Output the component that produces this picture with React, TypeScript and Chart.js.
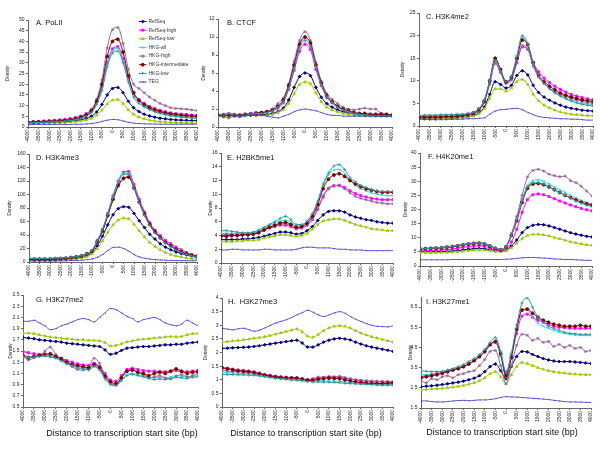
import React, { useEffect, useRef } from 'react';
import { Chart, registerables } from 'chart.js';
import { drawPoint } from 'chart.js/helpers';

Chart.register(...registerables);

const FONT = '"Liberation Sans", Arial, sans-serif';

// x positions (bp) of the profile points
const X = [-4000, -3750, -3500, -3250, -3000, -2750, -2500, -2250, -2000, -1750, -1500, -1250, -1000, -750, -500, -250,
  0, 250, 500, 750, 1000, 1250, 1500, 1750, 2000, 2250, 2500, 2750, 3000, 3250, 3500, 3750, 4000];
const X_TICKS = [-4000, -3500, -3000, -2500, -2000, -1500, -1000, -500, 0, 500, 1000, 1500, 2000, 2500, 3000, 3500, 4000];

const SERIES_NAMES = ['RefSeq', 'RefSeq-high', 'RefSeq-low', 'HKG-all', 'HKG-high', 'HKG-intermediate', 'HKG-low', 'TEG'];
const SERIES_COLORS = ['#000080', '#FF00FF', '#99CC00', '#22D8D8', '#996699', '#800000', '#2A9A9A', '#3333CC'];
const SERIES_MARKERS = ['rectRot', 'rect', 'triangle', 'crossRot', 'star', 'circle', 'cross', 'dash'];

// A. PoLII
const A_REFSEQ = [1.8, 1.9, 2.0, 2.1, 2.2, 2.3, 2.4, 2.5, 2.7, 3.0, 3.4, 4.0, 5.0, 7.0, 10.5, 15, 18, 18.5, 16, 12, 9, 7.2, 6.0, 5.2, 4.6, 4.1, 3.8, 3.5, 3.3, 3.2, 3.1, 3.0, 3.0];
const A_RS_HIGH = [2.2, 2.3, 2.5, 2.7, 2.9, 3.1, 3.3, 3.6, 3.9, 4.4, 5.1, 6.2, 8.2, 12, 19, 30, 36.5, 37.5, 32, 23, 16, 12.8, 11, 9.6, 8.6, 7.8, 7.1, 6.6, 6.2, 6.0, 5.8, 5.6, 5.5];
const A_RS_LOW = [1.6, 1.7, 1.8, 1.8, 1.9, 2.0, 2.0, 2.1, 2.3, 2.5, 2.8, 3.2, 4.0, 5.5, 7.8, 10.8, 12.5, 12.8, 11, 8, 6, 4.6, 3.8, 3.2, 2.8, 2.5, 2.3, 2.2, 2.1, 2.0, 2.0, 1.9, 1.9];
const A_HKG_ALL = [2.0, 2.1, 2.2, 2.3, 2.4, 2.5, 2.6, 2.8, 3.1, 3.6, 4.2, 5.2, 7.0, 11, 18, 29, 35.5, 36.8, 31, 22, 15, 11.8, 10, 8.6, 7.6, 6.8, 6.1, 5.6, 5.2, 5.0, 4.8, 4.6, 4.5];
const A_HKG_HIGH = [2.4, 2.5, 2.6, 2.7, 2.8, 2.9, 3.0, 3.2, 3.5, 4.0, 4.8, 6.0, 8.0, 13, 22, 37, 45.5, 46.5, 39, 27, 20, 18, 16, 14, 12.5, 11, 10, 9, 8.7, 8.5, 8.3, 8, 7.7];
const A_HKG_INT = [2.2, 2.3, 2.4, 2.5, 2.6, 2.7, 2.8, 3.0, 3.3, 3.8, 4.5, 5.6, 7.5, 12, 20, 33, 40, 41, 35, 24, 16, 12.5, 10.5, 9, 8, 7.2, 6.6, 6.1, 5.8, 5.5, 5.3, 5.1, 5.0];
const A_HKG_LOW = [1.9, 2.0, 2.1, 2.2, 2.3, 2.4, 2.5, 2.7, 3.0, 3.4, 4.0, 5.0, 6.6, 10.5, 17, 28, 34.5, 35.5, 30, 21, 14, 11, 9.4, 8.1, 7.1, 6.3, 5.7, 5.2, 4.9, 4.6, 4.4, 4.2, 4.0];
const A_TEG = [1.2, 1.2, 1.2, 1.2, 1.2, 1.2, 1.2, 1.2, 1.2, 1.3, 1.3, 1.4, 1.6, 2.0, 2.6, 3.2, 3.5, 3.4, 2.8, 2.2, 1.8, 1.6, 1.5, 1.4, 1.4, 1.3, 1.3, 1.3, 1.3, 1.3, 1.3, 1.3, 1.3];
const A_YTICKS = [0, 5, 10, 15, 20, 25, 30, 35, 40, 45, 50];

// B. CTCF
const B_REFSEQ = [1.3, 1.3, 1.3, 1.3, 1.3, 1.3, 1.3, 1.3, 1.4, 1.4, 1.5, 1.7, 2.1, 3.0, 4.4, 5.6, 6.0, 5.7, 4.4, 3.3, 2.6, 2.2, 1.9, 1.7, 1.6, 1.5, 1.4, 1.4, 1.3, 1.3, 1.3, 1.3, 1.3];
const B_RS_HIGH = [1.3, 1.4, 1.5, 1.4, 1.3, 1.4, 1.5, 1.6, 1.6, 1.7, 1.8, 2.1, 2.7, 4.2, 6.3, 8.4, 9.2, 8.6, 6.4, 4.6, 3.3, 2.7, 2.2, 1.9, 1.7, 1.6, 1.5, 1.5, 1.4, 1.4, 1.5, 1.4, 1.3];
const B_RS_LOW = [1.2, 1.2, 1.2, 1.2, 1.2, 1.2, 1.3, 1.3, 1.3, 1.3, 1.4, 1.6, 1.9, 2.6, 3.7, 4.7, 5.0, 4.8, 3.8, 2.8, 2.2, 1.9, 1.7, 1.5, 1.4, 1.3, 1.3, 1.2, 1.2, 1.2, 1.2, 1.2, 1.2];
const B_HKG_ALL = [1.3, 1.4, 1.3, 1.3, 1.3, 1.4, 1.4, 1.5, 1.6, 1.7, 1.9, 2.2, 2.9, 4.4, 6.7, 9.0, 9.8, 9.2, 6.8, 4.8, 3.5, 2.8, 2.3, 2.0, 1.8, 1.6, 1.5, 1.4, 1.4, 1.3, 1.3, 1.3, 1.3];
const B_HKG_HIGH = [1.2, 1.1, 1.0, 1.2, 1.1, 1.3, 1.4, 1.5, 1.6, 1.7, 2.0, 2.6, 3.2, 4.8, 7.3, 9.6, 10.6, 9.6, 7.2, 5.1, 3.7, 3.1, 2.6, 2.2, 2.0, 1.9, 2.0, 2.1, 2.0, 2.0, 1.5, 1.3, 1.2];
const B_HKG_INT = [1.3, 1.3, 1.3, 1.3, 1.3, 1.4, 1.4, 1.5, 1.6, 1.7, 1.9, 2.3, 3.0, 4.6, 6.9, 9.2, 10.0, 9.3, 6.9, 4.9, 3.5, 2.8, 2.3, 2.0, 1.8, 1.6, 1.5, 1.5, 1.4, 1.4, 1.4, 1.4, 1.3];
const B_HKG_LOW = [1.2, 1.3, 1.5, 1.3, 1.2, 1.3, 1.4, 1.5, 1.5, 1.6, 1.8, 2.2, 2.8, 4.3, 6.5, 8.8, 9.6, 9.0, 6.7, 4.7, 3.4, 2.7, 2.2, 1.9, 1.7, 1.5, 1.4, 1.3, 1.3, 1.2, 1.2, 1.2, 1.2];
const B_TEG = [1.3, 1.3, 1.3, 1.3, 1.2, 1.3, 1.3, 1.3, 1.3, 1.2, 1.1, 1.0, 1.2, 1.4, 1.7, 1.9, 2.0, 1.9, 1.8, 1.6, 1.4, 1.3, 1.3, 1.2, 1.2, 1.2, 1.2, 1.2, 1.2, 1.2, 1.2, 1.2, 1.2];
const B_YTICKS = [0, 2, 4, 6, 8, 10, 12];

// C. H3K4me2
const C_REFSEQ = [1.6, 1.6, 1.6, 1.6, 1.7, 1.7, 1.7, 1.8, 1.9, 2.0, 2.3, 2.9, 4.2, 7, 9.8, 9.2, 8.4, 9, 11.2, 12.2, 11.3, 9, 7.4, 6.4, 5.7, 5.1, 4.6, 4.2, 3.9, 3.7, 3.5, 3.4, 3.3];
const C_RS_HIGH = [1.8, 1.9, 1.9, 1.9, 2.0, 2.0, 2.1, 2.2, 2.4, 2.6, 3.0, 3.8, 5.6, 9.5, 14, 12, 9.6, 10.5, 14, 17.5, 17, 14, 12, 10.6, 9.6, 8.8, 8.1, 7.5, 7.0, 6.6, 6.3, 6.0, 5.8];
const C_RS_LOW = [1.7, 1.7, 1.7, 1.7, 1.7, 1.7, 1.8, 1.8, 1.9, 2.0, 2.2, 2.7, 3.8, 6, 8.2, 8.2, 7.7, 8.4, 9.8, 10.3, 9.2, 7, 5.6, 4.6, 4.0, 3.5, 3.1, 2.8, 2.6, 2.5, 2.4, 2.3, 2.3];
const C_HKG_ALL = [2.2, 2.2, 2.3, 2.3, 2.3, 2.4, 2.4, 2.5, 2.5, 2.7, 2.9, 3.7, 5.6, 10, 14.6, 12.3, 9.9, 11, 15.3, 19.6, 18, 13.8, 11, 9.5, 8.4, 7.5, 6.8, 6.2, 5.8, 5.4, 5.1, 4.9, 4.7];
const C_HKG_HIGH = [1.8, 1.8, 1.9, 1.9, 1.9, 2.0, 2.0, 2.1, 2.2, 2.4, 2.7, 3.5, 5.2, 9.2, 13.8, 11.8, 9.4, 10.2, 14, 17.8, 17, 13.2, 10.8, 9.4, 8.4, 7.6, 7, 6.5, 6.1, 5.8, 5.5, 5.2, 5.0];
const C_HKG_INT = [2.0, 2.0, 2.0, 2.0, 2.0, 2.1, 2.1, 2.2, 2.3, 2.5, 2.8, 3.6, 5.5, 10, 15, 12.5, 9.8, 10.8, 15, 19, 18, 14, 11.2, 9.8, 8.8, 8, 7.3, 6.8, 6.4, 6.1, 5.8, 5.6, 5.4];
const C_HKG_LOW = [2.3, 2.4, 2.4, 2.4, 2.5, 2.5, 2.5, 2.6, 2.6, 2.8, 3.0, 3.8, 5.7, 10, 14.5, 12.2, 9.8, 11, 15.5, 20, 18.2, 13.8, 11, 9.4, 8.2, 7.3, 6.6, 6.0, 5.5, 5.1, 4.8, 4.6, 4.4];
const C_TEG = [1.5, 1.5, 1.4, 1.4, 1.4, 1.4, 1.5, 1.5, 1.5, 1.6, 1.6, 1.7, 1.8, 2.6, 3.3, 3.6, 3.7, 3.85, 3.9, 3.6, 3.0, 2.5, 2.1, 1.9, 1.8, 1.7, 1.6, 1.6, 1.5, 1.5, 1.4, 1.3, 1.3];
const C_YTICKS = [0, 5, 10, 15, 20, 25];

// D. H3K4me3
const D_REFSEQ = [3, 3, 3, 3, 3, 3.2, 3.5, 4, 4.5, 5.5, 6.5, 9, 14, 24, 38, 55, 70, 79, 82, 81, 72, 61, 51, 41, 34, 27, 22, 18, 15, 12.5, 10.5, 8.5, 7];
const D_RS_HIGH = [4, 4, 4, 4, 4, 4.5, 5, 5.5, 6.5, 7.5, 9, 12, 17, 32, 48, 72, 98, 120, 133, 134, 115, 93, 74, 58, 47, 39, 32, 27, 22, 18, 14, 11, 9];
const D_RS_LOW = [2.5, 2.5, 2.5, 2.5, 2.5, 2.7, 3, 3.5, 4, 5, 6, 8, 12, 20, 31, 44, 55, 62, 65, 64, 56, 46, 37, 29, 23, 18, 14, 11, 9, 7.5, 6, 5, 4];
const D_HKG_ALL = [5, 5, 5, 5, 5, 5.5, 6, 6.5, 7, 8, 9.5, 12, 17, 31, 48, 72, 97, 119, 132, 131, 111, 89, 70, 55, 44, 36, 29, 24, 19, 15, 12, 10, 8];
const D_HKG_HIGH = [4, 4, 4, 4, 4, 4.5, 5, 5.5, 6.5, 7.5, 9, 12, 16, 29, 45, 68, 92, 112, 123, 125, 109, 88, 70, 55, 44, 36, 29, 24, 19, 15, 12, 10, 8];
const D_HKG_INT = [4, 4, 4, 4, 4, 4.5, 5, 5.5, 6.5, 7.5, 9, 12, 16, 30, 46, 69, 93, 114, 124, 126, 110, 89, 71, 56, 45, 36, 29, 24, 19, 15, 12, 10, 8];
const D_HKG_LOW = [5.5, 5.5, 5.5, 5.5, 5.5, 6, 6, 6.5, 7, 8, 9.5, 12, 17, 31, 48, 71, 96, 118, 130, 130, 110, 88, 69, 54, 43, 35, 28, 23, 18, 14, 11, 9, 7];
const D_TEG = [1.5, 1.5, 1.5, 1.5, 1.5, 1.6, 1.7, 1.8, 2, 2.3, 2.7, 3.4, 4.5, 7, 11, 17, 21.5, 22, 20, 16, 11, 7.5, 5.5, 4.2, 3.5, 3, 2.6, 2.3, 2.1, 2, 1.9, 1.8, 1.8];
const D_YTICKS = [0, 20, 40, 60, 80, 100, 120, 140, 160];

// E. H2BK5me1
const E_REFSEQ = [3.4, 3.4, 3.4, 3.4, 3.5, 3.5, 3.6, 3.7, 3.9, 4.1, 4.3, 4.5, 4.5, 4.4, 4.2, 4.3, 4.7, 5.3, 6.2, 7.0, 7.5, 7.6, 7.6, 7.4, 7.0, 6.7, 6.5, 6.3, 6.2, 6.0, 5.9, 5.8, 5.8];
const E_RS_HIGH = [4.0, 4.0, 4.0, 4.1, 4.1, 4.2, 4.3, 4.5, 4.8, 5.1, 5.3, 5.5, 5.5, 5.3, 5.0, 5.1, 5.5, 6.3, 7.8, 9.6, 10.8, 11.2, 11.3, 11.0, 10.5, 10.1, 9.8, 9.6, 9.4, 9.3, 9.2, 9.2, 9.2];
const E_RS_LOW = [3.1, 3.1, 3.1, 3.2, 3.2, 3.3, 3.3, 3.4, 3.6, 3.8, 3.9, 4.1, 4.1, 4.0, 3.9, 4.0, 4.3, 4.9, 5.6, 6.1, 6.3, 6.4, 6.4, 6.2, 5.9, 5.6, 5.4, 5.2, 5.0, 4.9, 4.8, 4.7, 4.7];
const E_HKG_ALL = [4.3, 4.3, 4.3, 4.3, 4.3, 4.3, 4.4, 4.6, 5.0, 5.4, 5.8, 6.1, 6.2, 5.9, 5.4, 5.5, 6.0, 7.0, 8.8, 11.2, 12.8, 13.5, 13.6, 13.0, 12.0, 11.3, 10.8, 10.5, 10.2, 10.0, 9.9, 9.8, 9.8];
const E_HKG_HIGH = [4.1, 4.2, 4.1, 4.0, 4.1, 4.2, 4.3, 4.5, 4.9, 5.2, 5.4, 5.7, 5.7, 5.4, 5.0, 5.1, 5.6, 6.4, 7.9, 9.8, 10.9, 11.3, 11.2, 10.8, 10.2, 9.7, 9.4, 9.2, 9.0, 8.8, 8.7, 8.6, 8.6];
const E_HKG_INT = [3.9, 3.9, 4.0, 4.0, 4.1, 4.1, 4.2, 4.4, 4.8, 5.2, 5.5, 5.8, 5.9, 5.6, 5.2, 5.3, 5.8, 6.8, 8.5, 10.8, 12.2, 12.8, 13.0, 12.6, 12.0, 11.5, 11.1, 10.8, 10.6, 10.4, 10.3, 10.3, 10.3];
const E_HKG_LOW = [4.7, 4.7, 4.6, 4.5, 4.4, 4.4, 4.5, 4.8, 5.2, 5.6, 6.0, 6.5, 6.8, 6.3, 5.6, 5.6, 6.1, 7.2, 9.0, 11.5, 13.1, 14.1, 14.3, 13.6, 12.4, 11.8, 11.3, 11.0, 10.7, 10.5, 10.4, 10.4, 10.4];
const E_TEG = [1.9, 1.9, 2.0, 2.0, 1.9, 1.9, 1.9, 1.9, 2.0, 2.0, 1.9, 1.9, 1.9, 1.9, 2.0, 2.2, 2.3, 2.3, 2.2, 2.2, 2.2, 2.1, 2.0, 2.0, 1.9, 1.9, 1.9, 1.8, 1.8, 1.8, 1.8, 1.8, 1.8];
const E_YTICKS = [0, 2, 4, 6, 8, 10, 12, 14, 16];

// F. H4K20me1
const F_REFSEQ = [5.0, 5.0, 5.0, 5.1, 5.1, 5.2, 5.3, 5.5, 5.7, 5.9, 6.1, 6.2, 6.1, 5.8, 5.4, 5.2, 5.6, 7.0, 9.2, 11.8, 13.6, 14.4, 14.7, 14.6, 14.2, 13.6, 13.0, 12.4, 11.8, 11.3, 10.9, 10.5, 10.3];
const F_RS_HIGH = [5.4, 5.4, 5.5, 5.6, 5.7, 5.8, 6.0, 6.3, 6.6, 6.9, 7.1, 7.2, 7.0, 6.4, 5.7, 5.3, 5.8, 8.5, 13, 19, 23.5, 25.2, 25.5, 25.2, 24.6, 23.8, 23.0, 22.3, 21.6, 21.0, 20.4, 19.9, 19.5];
const F_RS_LOW = [4.7, 4.7, 4.7, 4.7, 4.8, 4.8, 4.9, 5.0, 5.2, 5.4, 5.6, 5.7, 5.6, 5.4, 5.1, 5.0, 5.3, 6.4, 8.0, 9.7, 10.8, 11.2, 11.2, 11.0, 10.6, 10.1, 9.6, 9.1, 8.6, 8.2, 7.8, 7.5, 7.3];
const F_HKG_ALL = [6.3, 6.3, 6.4, 6.5, 6.6, 6.8, 7.0, 7.3, 7.6, 7.9, 8.1, 8.2, 8.0, 7.3, 6.4, 5.9, 6.9, 11, 16.5, 23.5, 28.5, 30.2, 30.5, 30.0, 29.0, 28.0, 27.0, 26.0, 25.0, 24.0, 23.2, 22.5, 22.0];
const F_HKG_HIGH = [6.2, 6.2, 6.3, 6.4, 6.6, 6.8, 7.0, 7.3, 7.7, 8.0, 8.2, 8.3, 8.0, 7.3, 6.4, 5.8, 7.0, 11.5, 17.5, 25, 31.5, 33.8, 34.2, 33.6, 32.5, 32, 31.6, 31.8, 30.2, 29.5, 28.2, 26.5, 24.8];
const F_HKG_INT = [6.0, 6.1, 6.2, 6.3, 6.4, 6.6, 6.8, 7.1, 7.4, 7.7, 7.9, 8.0, 7.7, 7.0, 6.2, 5.7, 6.7, 10.8, 16, 22.5, 27.5, 29.0, 29.2, 28.8, 28.0, 27.0, 26.0, 25.0, 24.2, 23.4, 22.6, 22.0, 21.5];
const F_HKG_LOW = [6.2, 6.2, 6.3, 6.4, 6.5, 6.7, 6.9, 7.2, 7.5, 7.8, 8.0, 8.1, 7.8, 7.1, 6.3, 5.8, 6.8, 10.9, 16.3, 23, 28, 29.4, 29.5, 29.0, 28.0, 27.0, 26.0, 25.0, 24.0, 23.0, 22.2, 21.5, 21.0];
const F_TEG = [2.2, 2.2, 2.2, 2.2, 2.2, 2.2, 2.3, 2.3, 2.3, 2.3, 2.3, 2.3, 2.3, 2.3, 2.3, 2.3, 2.4, 2.5, 2.7, 2.9, 3.0, 3.0, 2.9, 2.8, 2.7, 2.5, 2.4, 2.3, 2.3, 2.2, 2.1, 2.0, 2.0];
const F_YTICKS = [0, 5, 10, 15, 20, 25, 30, 35, 40];

// G. H3K27me2
const G_REFSEQ = [1.74, 1.73, 1.72, 1.70, 1.69, 1.68, 1.67, 1.66, 1.64, 1.63, 1.62, 1.61, 1.60, 1.59, 1.58, 1.52, 1.44, 1.46, 1.51, 1.55, 1.56, 1.57, 1.58, 1.58, 1.59, 1.60, 1.61, 1.61, 1.62, 1.62, 1.64, 1.65, 1.66];
const G_RS_HIGH = [1.49, 1.47, 1.45, 1.44, 1.43, 1.42, 1.40, 1.37, 1.33, 1.30, 1.27, 1.25, 1.24, 1.28, 1.22, 1.10, 0.98, 0.96, 1.06, 1.17, 1.19, 1.17, 1.15, 1.14, 1.14, 1.13, 1.13, 1.14, 1.15, 1.13, 1.13, 1.14, 1.15];
const G_RS_LOW = [1.82, 1.82, 1.81, 1.79, 1.77, 1.75, 1.74, 1.73, 1.72, 1.71, 1.70, 1.70, 1.69, 1.69, 1.68, 1.65, 1.59, 1.60, 1.63, 1.66, 1.68, 1.70, 1.71, 1.72, 1.73, 1.74, 1.75, 1.76, 1.75, 1.76, 1.79, 1.81, 1.81];
const G_HKG_ALL = [1.42, 1.40, 1.40, 1.41, 1.42, 1.40, 1.38, 1.34, 1.29, 1.25, 1.22, 1.20, 1.18, 1.24, 1.18, 1.02, 0.92, 0.89, 0.98, 1.08, 1.10, 1.08, 1.06, 1.04, 1.02, 1.03, 1.02, 1.04, 1.06, 1.05, 1.04, 1.05, 1.06];
const G_HKG_HIGH = [1.40, 1.34, 1.38, 1.42, 1.50, 1.57, 1.44, 1.35, 1.28, 1.22, 1.17, 1.16, 1.20, 1.37, 1.28, 1.06, 0.93, 0.90, 1.02, 1.14, 1.16, 1.12, 1.08, 1.02, 1.04, 1.06, 1.02, 1.00, 1.05, 1.08, 1.04, 1.06, 1.10];
const G_HKG_INT = [1.42, 1.38, 1.40, 1.42, 1.44, 1.45, 1.40, 1.36, 1.30, 1.26, 1.24, 1.22, 1.20, 1.26, 1.20, 1.05, 0.95, 0.92, 1.02, 1.14, 1.16, 1.12, 1.10, 1.06, 1.10, 1.12, 1.10, 1.14, 1.18, 1.14, 1.10, 1.12, 1.13];
const G_HKG_LOW = [1.40, 1.38, 1.39, 1.40, 1.41, 1.39, 1.37, 1.32, 1.27, 1.24, 1.20, 1.18, 1.16, 1.22, 1.16, 1.00, 0.90, 0.88, 0.97, 1.06, 1.08, 1.06, 1.04, 1.01, 0.99, 1.00, 0.99, 1.01, 1.03, 1.02, 1.01, 1.03, 1.04];
const G_TEG = [2.03, 2.03, 2.05, 2.0, 1.95, 1.88, 1.90, 1.95, 1.98, 2.02, 2.06, 2.08, 2.06, 2.02, 2.1, 2.18, 2.26, 2.24, 2.18, 2.12, 2.08, 2.02, 2.06, 2.08, 2.10, 2.06, 2.0, 1.97, 1.95, 1.98, 2.05, 2.0, 1.95];
const G_YTICKS = [0.5, 0.7, 0.9, 1.1, 1.3, 1.5, 1.7, 1.9, 2.1, 2.3, 2.5];

// H. H3K27me3
const H_REFSEQ = [2.15, 2.16, 2.17, 2.18, 2.19, 2.20, 2.22, 2.25, 2.28, 2.31, 2.34, 2.37, 2.40, 2.43, 2.45, 2.35, 2.20, 2.20, 2.28, 2.38, 2.45, 2.50, 2.52, 2.50, 2.46, 2.38, 2.31, 2.25, 2.20, 2.16, 2.12, 2.08, 2.04];
const H_RS_HIGH = [1.45, 1.42, 1.38, 1.36, 1.34, 1.31, 1.28, 1.24, 1.19, 1.16, 1.13, 1.10, 1.08, 1.07, 1.05, 1.03, 1.00, 1.02, 1.06, 1.08, 1.10, 1.10, 1.09, 1.06, 1.02, 0.99, 0.97, 0.95, 0.94, 0.93, 0.92, 0.91, 0.90];
const H_RS_LOW = [2.38, 2.40, 2.42, 2.44, 2.46, 2.49, 2.52, 2.55, 2.58, 2.62, 2.67, 2.72, 2.77, 2.82, 2.86, 2.76, 2.60, 2.56, 2.66, 2.80, 2.90, 2.96, 2.98, 2.96, 2.90, 2.80, 2.71, 2.64, 2.58, 2.53, 2.48, 2.43, 2.38];
const H_HKG_ALL = [1.28, 1.26, 1.25, 1.24, 1.23, 1.22, 1.20, 1.17, 1.13, 1.10, 1.07, 1.05, 1.03, 1.02, 1.01, 0.99, 0.96, 0.95, 0.96, 0.96, 0.96, 0.95, 0.94, 0.92, 0.90, 0.88, 0.87, 0.86, 0.85, 0.84, 0.84, 0.83, 0.83];
const H_HKG_HIGH = [1.35, 1.32, 1.30, 1.30, 1.28, 1.26, 1.24, 1.20, 1.16, 1.12, 1.10, 1.08, 1.06, 1.08, 1.07, 1.02, 1.00, 1.04, 1.10, 1.09, 1.12, 1.10, 1.13, 1.08, 1.04, 1.00, 0.98, 0.96, 0.95, 0.95, 0.94, 0.94, 0.94];
const H_HKG_INT = [1.44, 1.40, 1.37, 1.33, 1.31, 1.30, 1.27, 1.22, 1.17, 1.14, 1.10, 1.09, 1.08, 1.06, 1.06, 1.03, 0.98, 0.98, 1.02, 1.04, 1.06, 1.05, 1.04, 1.00, 0.96, 0.92, 0.90, 0.88, 0.87, 0.86, 0.86, 0.87, 0.88];
const H_HKG_LOW = [1.20, 1.19, 1.19, 1.18, 1.18, 1.17, 1.16, 1.14, 1.11, 1.08, 1.05, 1.03, 1.01, 0.99, 0.98, 0.96, 0.93, 0.92, 0.92, 0.91, 0.91, 0.90, 0.89, 0.87, 0.86, 0.85, 0.84, 0.83, 0.82, 0.81, 0.80, 0.80, 0.80];
const H_TEG = [2.89, 2.86, 2.83, 2.87, 2.89, 2.84, 2.78, 2.82, 2.90, 2.99, 3.08, 3.14, 3.20, 3.28, 3.38, 3.46, 3.55, 3.48, 3.38, 3.32, 3.38, 3.45, 3.50, 3.44, 3.32, 3.22, 3.14, 3.06, 3.00, 2.96, 2.95, 2.94, 2.98];
const H_YTICKS = [0, 0.5, 1, 1.5, 2, 2.5, 3, 3.5, 4];

// I. H3K27me1
const I_REFSEQ = [2.55, 2.58, 2.60, 2.63, 2.66, 2.70, 2.74, 2.78, 2.83, 2.90, 2.98, 3.10, 3.30, 3.55, 3.68, 3.35, 2.95, 3.55, 4.05, 4.30, 4.28, 4.15, 4.05, 3.95, 3.88, 3.83, 3.80, 3.80, 3.80, 3.78, 3.76, 3.73, 3.70];
const I_RS_HIGH = [3.05, 3.10, 3.15, 3.20, 3.27, 3.33, 3.40, 3.48, 3.57, 3.70, 3.85, 4.05, 4.30, 4.62, 4.75, 4.10, 3.25, 4.10, 5.20, 6.05, 6.15, 6.00, 5.85, 5.75, 5.65, 5.55, 5.50, 5.48, 5.46, 5.45, 5.45, 5.45, 5.45];
const I_RS_LOW = [2.40, 2.42, 2.44, 2.45, 2.47, 2.50, 2.53, 2.57, 2.62, 2.68, 2.75, 2.85, 3.00, 3.20, 3.30, 3.05, 2.70, 3.15, 3.55, 3.75, 3.70, 3.60, 3.50, 3.42, 3.35, 3.30, 3.26, 3.23, 3.20, 3.18, 3.16, 3.15, 3.15];
const I_HKG_ALL = [3.15, 3.15, 3.18, 3.20, 3.25, 3.30, 3.38, 3.45, 3.55, 3.68, 3.82, 4.00, 4.25, 4.60, 4.75, 4.05, 3.00, 3.95, 5.40, 6.30, 6.35, 6.00, 5.70, 5.55, 5.45, 5.35, 5.25, 5.20, 5.15, 5.12, 5.10, 5.10, 5.10];
const I_HKG_HIGH = [2.85, 2.75, 2.95, 2.90, 3.05, 3.10, 3.00, 3.15, 3.20, 3.30, 3.35, 3.60, 3.90, 4.30, 4.35, 3.60, 2.70, 3.60, 4.60, 5.15, 5.10, 4.85, 4.95, 4.75, 4.80, 4.55, 4.65, 4.50, 4.60, 4.45, 4.50, 4.30, 4.35];
const I_HKG_INT = [3.00, 3.05, 3.10, 3.15, 3.22, 3.30, 3.38, 3.45, 3.55, 3.68, 3.85, 4.05, 4.30, 4.65, 4.80, 4.20, 3.10, 4.00, 5.40, 6.35, 6.40, 6.20, 6.00, 5.85, 5.75, 5.65, 5.60, 5.55, 5.55, 5.55, 5.60, 5.55, 5.55];
const I_HKG_LOW = [3.35, 3.32, 3.30, 3.30, 3.32, 3.38, 3.45, 3.55, 3.65, 3.80, 3.95, 4.15, 4.40, 4.75, 5.00, 4.30, 3.30, 4.20, 5.60, 6.70, 6.95, 6.50, 6.00, 5.75, 5.55, 5.45, 5.35, 5.25, 5.20, 5.18, 5.15, 5.15, 5.15];
const I_TEG = [1.85, 1.85, 1.82, 1.80, 1.80, 1.82, 1.85, 1.87, 1.88, 1.86, 1.88, 1.90, 1.90, 1.92, 1.96, 2.02, 2.06, 2.05, 2.04, 2.02, 2.00, 1.98, 1.96, 1.94, 1.92, 1.88, 1.85, 1.82, 1.80, 1.80, 1.79, 1.78, 1.77];
const I_YTICKS = [1.5, 2.5, 3.5, 4.5, 5.5, 6.5];

const X_AXIS_TITLE = 'Distance to transcription start site (bp)';
const Y_AXIS_TITLE = 'Density';

type Rect = { left: number; top: number; width: number; height: number };
type Area = { l: number; t: number; r: number; b: number };
type PanelDef = {
  title: string;
  yMin: number;
  yMax: number;
  yTicks: number[];
  series: number[][];
  box: Rect;
  area: Area;
  titleAt: { x: number; y: number };
  yTitlePad: number;
  legend?: boolean;
  xTitle?: { cx: number; y: number };
};

const PANELS: PanelDef[] = [
  { title: 'A. PoLII', yMin: 0, yMax: 50, yTicks: A_YTICKS,
    series: [A_REFSEQ, A_RS_HIGH, A_RS_LOW, A_HKG_ALL, A_HKG_HIGH, A_HKG_INT, A_HKG_LOW, A_TEG],
    box: { left: 0, top: 0, width: 205, height: 152 }, area: { l: 28, t: 20, r: 197, b: 127 },
    titleAt: { x: 36, y: 19 }, yTitlePad: 5, legend: true },
  { title: 'B. CTCF', yMin: 0, yMax: 12, yTicks: B_YTICKS,
    series: [B_REFSEQ, B_RS_HIGH, B_RS_LOW, B_HKG_ALL, B_HKG_HIGH, B_HKG_INT, B_HKG_LOW, B_TEG],
    box: { left: 200, top: 0, width: 200, height: 152 }, area: { l: 218, t: 19, r: 392, b: 127 },
    titleAt: { x: 227, y: 19 }, yTitlePad: 1 },
  { title: 'C. H3K4me2', yMin: 0, yMax: 25, yTicks: C_YTICKS,
    series: [C_REFSEQ, C_RS_HIGH, C_RS_LOW, C_HKG_ALL, C_HKG_HIGH, C_HKG_INT, C_HKG_LOW, C_TEG],
    box: { left: 400, top: 0, width: 200, height: 152 }, area: { l: 419, t: 13, r: 593, b: 126 },
    titleAt: { x: 426, y: 13 }, yTitlePad: 0 },
  { title: 'D. H3K4me3', yMin: 0, yMax: 160, yTicks: D_YTICKS,
    series: [D_REFSEQ, D_RS_HIGH, D_RS_LOW, D_HKG_ALL, D_HKG_HIGH, D_HKG_INT, D_HKG_LOW, D_TEG],
    box: { left: 0, top: 145, width: 205, height: 147 }, area: { l: 29, t: 154, r: 197, b: 262 },
    titleAt: { x: 36, y: 154 }, yTitlePad: 7 },
  { title: 'E. H2BK5me1', yMin: 0, yMax: 16, yTicks: E_YTICKS,
    series: [E_REFSEQ, E_RS_HIGH, E_RS_LOW, E_HKG_ALL, E_HKG_HIGH, E_HKG_INT, E_HKG_LOW, E_TEG],
    box: { left: 200, top: 145, width: 200, height: 147 }, area: { l: 221, t: 153, r: 394, b: 263 },
    titleAt: { x: 227, y: 154 }, yTitlePad: 8 },
  { title: 'F. H4K20me1', yMin: 0, yMax: 40, yTicks: F_YTICKS,
    series: [F_REFSEQ, F_RS_HIGH, F_RS_LOW, F_HKG_ALL, F_HKG_HIGH, F_HKG_INT, F_HKG_LOW, F_TEG],
    box: { left: 400, top: 145, width: 200, height: 147 }, area: { l: 420, t: 153, r: 592, b: 266 },
    titleAt: { x: 428, y: 153 }, yTitlePad: 3 },
  { title: 'G. H3K27me2', yMin: 0.5, yMax: 2.5, yTicks: G_YTICKS,
    series: [G_REFSEQ, G_RS_HIGH, G_RS_LOW, G_HKG_ALL, G_HKG_HIGH, G_HKG_INT, G_HKG_LOW, G_TEG],
    box: { left: 0, top: 288, width: 205, height: 145 }, area: { l: 23, t: 295, r: 201, b: 407 },
    titleAt: { x: 36, y: 296 }, yTitlePad: 8, xTitle: { cx: 122, y: 429 } },
  { title: 'H.  H3K27me3', yMin: 0, yMax: 4, yTicks: H_YTICKS,
    series: [H_REFSEQ, H_RS_HIGH, H_RS_LOW, H_HKG_ALL, H_HKG_HIGH, H_HKG_INT, H_HKG_LOW, H_TEG],
    box: { left: 200, top: 288, width: 200, height: 145 }, area: { l: 222, t: 298, r: 393, b: 407 },
    titleAt: { x: 228, y: 298 }, yTitlePad: 3, xTitle: { cx: 306, y: 429 } },
  { title: 'I. H3K27me1', yMin: 1.5, yMax: 7, yTicks: I_YTICKS,
    series: [I_REFSEQ, I_RS_HIGH, I_RS_LOW, I_HKG_ALL, I_HKG_HIGH, I_HKG_INT, I_HKG_LOW, I_TEG],
    box: { left: 400, top: 288, width: 200, height: 145 }, area: { l: 421, t: 297, r: 591, b: 408 },
    titleAt: { x: 426, y: 298 }, yTitlePad: 8, xTitle: { cx: 502, y: 428 } },
];

const legendPlugin = {
  id: 'insideLegend',
  afterDraw(chart: any) {
    const ctx = chart.ctx as CanvasRenderingContext2D;
    ctx.save();
    SERIES_NAMES.forEach((name, i) => {
      const y = 21.5 + i * 8.65;
      const col = SERIES_COLORS[i];
      ctx.strokeStyle = col;
      ctx.fillStyle = col;
      ctx.lineWidth = 1;
      ctx.beginPath();
      ctx.moveTo(139, y);
      ctx.lineTo(146.5, y);
      ctx.stroke();
      drawPoint(ctx, { pointStyle: SERIES_MARKERS[i] as any, radius: 1.4, rotation: 0, borderWidth: 1 }, 142.7, y);
      ctx.fillStyle = '#333';
      ctx.font = `5px ${FONT}`;
      ctx.textBaseline = 'middle';
      ctx.textAlign = 'left';
      ctx.fillText(name, 148.5, y);
    });
    ctx.restore();
  },
};

function Panel({ p }: { p: PanelDef }) {
  const ref = useRef<HTMLCanvasElement | null>(null);
  useEffect(() => {
    const canvas = ref.current;
    if (!canvas) return;
    const yW = p.area.l - p.box.left;
    const xH = p.box.top + p.box.height - p.area.b;
    const padTop = p.area.t - p.box.top;
    const padRight = p.box.left + p.box.width - p.area.r;
    const chart = new Chart(canvas, {
      type: 'line',
      data: {
        datasets: p.series.map((arr, i) => ({
          label: SERIES_NAMES[i],
          data: arr.map((y, j) => ({ x: X[j], y })),
          borderColor: SERIES_COLORS[i],
          backgroundColor: SERIES_COLORS[i],
          pointBackgroundColor: SERIES_COLORS[i],
          pointBorderColor: SERIES_COLORS[i],
          borderWidth: i === 7 ? 0.8 : 1,
          pointStyle: SERIES_MARKERS[i] as any,
          pointRadius: i === 7 ? 1.2 : 1.5,
          pointBorderWidth: 0.8,
          cubicInterpolationMode: 'monotone',
          fill: false,
          order: 7 - i,
        })),
      },
      options: {
        responsive: false,
        maintainAspectRatio: false,
        animation: false,
        events: [],
        layout: { padding: { left: 0, top: padTop, right: padRight, bottom: 0 } },
        plugins: { legend: { display: false }, tooltip: { enabled: false }, title: { display: false } },
        scales: {
          x: {
            type: 'linear',
            min: -4000,
            max: 4000,
            afterBuildTicks: (axis: any) => { axis.ticks = X_TICKS.map((v) => ({ value: v })); },
            afterFit: (axis: any) => { axis.height = xH; },
            grid: { drawOnChartArea: false, drawTicks: true, tickLength: 2, color: '#666' },
            border: { color: '#666', width: 1 },
            ticks: {
              autoSkip: false, minRotation: 90, maxRotation: 90, padding: 1,
              color: '#222', font: { size: 5, family: FONT },
              callback: (v: any) => String(v),
            },
          },
          y: {
            type: 'linear',
            min: p.yMin,
            max: p.yMax,
            afterBuildTicks: (axis: any) => { axis.ticks = p.yTicks.map((v) => ({ value: v })); },
            afterFit: (axis: any) => { axis.width = yW; },
            grid: { drawOnChartArea: false, drawTicks: true, tickLength: 2, color: '#666' },
            border: { color: '#666', width: 1 },
            title: { display: true, text: Y_AXIS_TITLE, color: '#222', font: { size: 4.5, family: FONT }, padding: { top: p.yTitlePad, bottom: 0 } },
            ticks: {
              padding: 1.5, color: '#222', font: { size: 5, family: FONT },
              callback: (v: any) => String(v),
            },
          },
        },
      },
      plugins: p.legend ? [legendPlugin] : [],
    } as any);
    return () => chart.destroy();
  }, [p]);
  return (
    <canvas
      ref={ref}
      width={p.box.width}
      height={p.box.height}
      style={{ position: 'absolute', left: p.box.left, top: p.box.top, width: p.box.width, height: p.box.height }}
    />
  );
}

export default function App() {
  return (
    <div style={{ position: 'absolute', left: 0, top: 0, width: 600, height: 453, background: '#fff', overflow: 'hidden', fontFamily: FONT }}>
      {PANELS.map((p, i) => <Panel key={i} p={p} />)}
      {PANELS.map((p, i) => (
        <div key={'t' + i} style={{ position: 'absolute', left: p.titleAt.x, top: p.titleAt.y, fontSize: 7.5, lineHeight: 1, color: '#111', whiteSpace: 'pre' }}>{p.title}</div>
      ))}
      {PANELS.filter((p) => p.xTitle).map((p, i) => (
        <div key={'x' + i} style={{ position: 'absolute', left: p.xTitle!.cx - 100, width: 200, textAlign: 'center', top: p.xTitle!.y, fontSize: 9, lineHeight: 1, color: '#111', whiteSpace: 'nowrap' }}>{X_AXIS_TITLE}</div>
      ))}
    </div>
  );
}
